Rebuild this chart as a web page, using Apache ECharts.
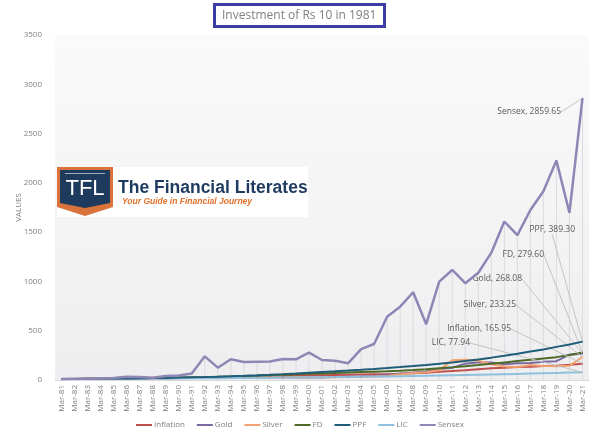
<!DOCTYPE html>
<html>
<head>
<meta charset="utf-8">
<script src="https://cdn.jsdelivr.net/npm/echarts@6/dist/echarts.min.js"></script>
<style>
html,body{margin:0;padding:0;background:#fff;}
#chart{width:600px;height:444px;}
</style>
</head>
<body>
<div id="chart"></div>
<script>
const categories = ['Mar-81','Mar-82','Mar-83','Mar-84','Mar-85','Mar-86','Mar-87','Mar-88','Mar-89','Mar-90',
  'Mar-91','Mar-92','Mar-93','Mar-94','Mar-95','Mar-96','Mar-97','Mar-98','Mar-99','Mar-00',
  'Mar-01','Mar-02','Mar-03','Mar-04','Mar-05','Mar-06','Mar-07','Mar-08','Mar-09','Mar-10',
  'Mar-11','Mar-12','Mar-13','Mar-14','Mar-15','Mar-16','Mar-17','Mar-18','Mar-19','Mar-20','Mar-21'];

const inflation = [10,11.0,12.0,12.9,13.7,14.5,15.8,17.2,18.6,19.9,22.3,25.2,26.8,29.3,32.1,35.0,37.4,40.6,45.5,47.0,
  48.8,51.0,52.9,55.0,57.1,59.5,63.6,67.6,73.7,84.2,91.8,99.6,109.6,118.0,124.3,130.8,135.6,140.8,145.3,155.1,165.95];
const gold = [10,9.9,10.8,11.8,12.8,12.8,15.4,18.7,18.8,19.2,20.8,26.0,24.8,27.5,28.0,30.9,28.3,24.2,25.4,26.3,
  25.7,29.9,33.5,35.0,41.9,50.3,64.7,74.9,86.8,110.8,124.0,166.0,179.0,178.0,160.0,171.0,172.0,184.0,191.0,257.0,268.08];
const silver = [10,10.2,11.5,13.2,14.5,15.3,16.6,23.2,24.3,24.1,23.7,26.1,21.8,24.2,25.8,25.6,27.7,26.2,28.0,28.7,
  29.1,28.3,29.6,30.8,36.4,40.6,58.3,72.0,77.6,98.0,200.0,205.0,195.0,160.0,137.0,131.0,152.0,141.0,139.0,145.0,233.25];
const fd = [10,11.0,12.1,13.3,14.6,16.1,17.7,19.5,21.4,23.6,26.0,28.8,32.0,35.3,38.8,42.9,47.5,52.3,57.5,62.8,
  66.0,71.0,76.0,80.0,84.0,88.0,94.0,101.0,110.0,120.0,129.0,139.0,151.0,164.0,178.0,192.0,206.0,219.0,232.0,254.0,279.60];
const ppf = [10,10.9,11.8,12.9,14.0,15.3,17.1,19.2,21.5,24.1,27.0,30.2,33.8,37.9,42.4,47.5,53.2,59.6,66.7,74.7,
  81.8,88.7,96.1,103.8,112.1,121.1,130.8,141.2,152.5,164.7,177.9,192.3,208.9,226.9,246.4,266.8,288.2,310.1,336.1,361.0,389.30];
const lic = [10,10.5,11.0,11.6,12.2,12.9,13.6,14.3,15.1,15.9,16.8,17.7,18.6,19.6,20.7,21.8,23.0,24.2,25.5,26.9,
  28.3,29.8,31.4,33.1,34.8,36.7,38.6,40.7,42.9,45.1,47.5,50.1,52.7,55.6,58.5,61.6,64.9,68.3,71.6,74.9,77.94];
const sensex = [10,12,13,14,21,33,30,23,41,45,66,240,125,210,182,186,188,213,210,277,
  203,196,169,314,365,642,744,890,566,998,1116,982,1088,1292,1608,1470,1725,1915,2226,1697,2859.65];

const yTicks = {min: 0, max: 3500, interval: 500};

const FONT = "'Open Sans', 'Noto Sans', sans-serif";
const chart = echarts.init(document.getElementById('chart'), null, {renderer: 'canvas'});

function withEndLabel(arr) {
  return arr.map((v, i) => i === arr.length - 1 ? {value: v, label: {show: true}} : v);
}

// label anchor (right end x, center y) for each end label
const labelPos = {
  'Sensex': [561, 112],
  'PPF': [575, 230],
  'FD': [544, 255],
  'Gold': [522, 279],
  'Silver': [516, 305],
  'Inflation': [511, 329],
  'LIC': [470, 343]
};

function lineSeries(name, arr, color, width, z) {
  return {
    name: name,
    type: 'line',
    data: withEndLabel(arr),
    symbol: 'circle',
    symbolSize: 1,
    showSymbol: true,
    z: z,
    lineStyle: {color: color, width: width},
    itemStyle: {color: color},
    label: {
      show: false,
      formatter: (p) => name + ', ' + Number(p.value).toFixed(2),
      fontSize: 8.5,
      color: '#595959',
      fontFamily: FONT
    },
    labelLine: {show: true, lineStyle: {color: '#c4c4c4', width: 1}},
    labelLayout: function (params) {
      if (params.dataIndex !== arr.length - 1) return {};
      const pos = labelPos[name];
      return {x: pos[0], y: pos[1], align: 'right', verticalAlign: 'middle', hideOverlap: false};
    },
    emphasis: {disabled: true}
  };
}

const option = {
  animation: false,
  backgroundColor: '#ffffff',
  textStyle: {fontFamily: FONT},
  title: {
    text: 'Investment of Rs 10 in 1981',
    left: 214, top: 4,
    padding: [6, 8, 5, 8],
    borderColor: '#3c3ca4',
    borderWidth: 3,
    backgroundColor: '#ffffff',
    textStyle: {color: '#808080', fontSize: 12, fontWeight: 'normal', fontFamily: FONT}
  },
  grid: {
    left: 55, right: 11, top: 35, bottom: 64,
    outerBoundsMode: 'none',
    show: true, borderWidth: 0,
    backgroundColor: new echarts.graphic.LinearGradient(0, 0, 0, 1, [
      {offset: 0, color: '#fafafa'}, {offset: 1, color: '#eeeef0'}
    ])
  },
  legend: {
    top: 416,
    left: 'center',
    data: ['Inflation', 'Gold', 'Silver', 'FD', 'PPF', 'LIC', 'Sensex'],
    icon: 'rect',
    itemWidth: 16,
    itemHeight: 2,
    itemGap: 12,
    textStyle: {fontSize: 8, color: '#7f7f7f', fontFamily: FONT, padding: [0, 0, 0, -3]}
  },
  xAxis: {
    type: 'category',
    data: categories,
    boundaryGap: true,
    axisLine: {lineStyle: {color: '#d9d9d9'}},
    axisTick: {show: false},
    axisLabel: {rotate: 90, fontSize: 8, color: '#7f7f7f', interval: 0, margin: 5, fontFamily: FONT}
  },
  yAxis: {
    type: 'value',
    min: yTicks.min, max: yTicks.max, interval: yTicks.interval,
    splitLine: {show: false},
    axisLine: {show: false},
    axisTick: {show: false},
    axisLabel: {fontSize: 8, color: '#7f7f7f', margin: 13, fontFamily: FONT, formatter: (v) => String(v)},
    name: 'VALUES',
    nameLocation: 'middle',
    nameGap: 32,
    nameMoveOverlap: false,
    nameRotate: 90,
    nameTextStyle: {fontSize: 8, color: '#7f7f7f', fontFamily: FONT}
  },
  series: [
    {
      name: 'drop',
      type: 'bar',
      data: sensex,
      barWidth: 1,
      silent: true,
      z: 1,
      itemStyle: {color: '#dcdce0'},
      emphasis: {disabled: true}
    },
    lineSeries('Inflation', inflation, '#c0504d', 2, 3),
    lineSeries('Gold', gold, '#7a68a3', 2, 3),
    lineSeries('Silver', silver, '#f2a36f', 2, 3),
    lineSeries('FD', fd, '#4f6a28', 2, 3),
    lineSeries('PPF', ppf, '#1f5d78', 2, 4),
    lineSeries('LIC', lic, '#8fc0dd', 2, 3),
    lineSeries('Sensex', sensex, '#8e86b4', 2.5, 5)
  ],
  graphic: [
    {
      type: 'group', left: 57, top: 167, z: 100,
      children: [
        {type: 'rect', shape: {x: 0, y: 0, width: 251, height: 50}, style: {fill: '#ffffff'}},
        {type: 'polygon', shape: {points: [[0, 0], [56, 0], [56, 40], [28, 49], [0, 40]]}, style: {fill: '#d9733b'}},
        {type: 'polygon', shape: {points: [[3, 3], [53, 3], [53, 36], [28, 41], [3, 36]]}, style: {fill: '#1e3a5c'}},
        {type: 'rect', shape: {x: 8, y: 6, width: 40, height: 1}, style: {fill: '#9fb0c4'}},
        {type: 'text', style: {x: 28, y: 22, text: 'TFL', fill: '#ffffff', font: '22px "Liberation Sans", sans-serif', align: 'center', verticalAlign: 'middle'}},
        {type: 'text', style: {x: 61, y: 21, text: 'The Financial Literates', fill: '#1f3a5f', font: 'bold 17.5px "Liberation Sans", sans-serif', verticalAlign: 'middle'}},
        {type: 'text', style: {x: 65, y: 35, text: 'Your Guide in Financial Journey', fill: '#e0702a', font: 'italic bold 8.5px "Liberation Sans", sans-serif', verticalAlign: 'middle'}}
      ]
    }
  ]
};
chart.setOption(option);
</script>
</body>
</html>
